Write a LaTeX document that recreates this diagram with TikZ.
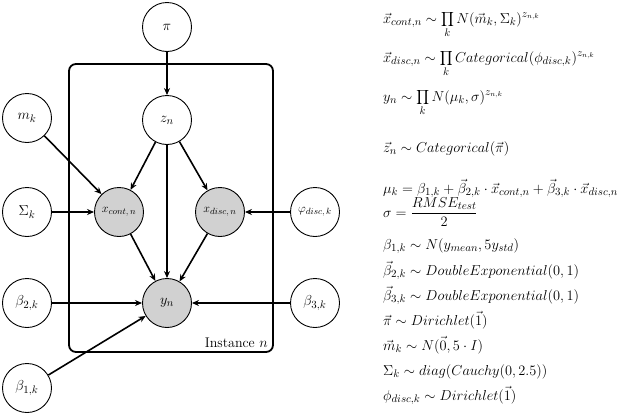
\documentclass[tikz,border=0pt]{standalone}
\usetikzlibrary{arrows.meta}
\begin{document}
\begin{tikzpicture}[x=1pt,y=-1pt,
  var/.style={circle,draw,line width=0.9pt,minimum size=49pt,inner sep=0pt,font=\fontsize{15}{17}\selectfont},
  obs/.style={var,fill=black!18},
  edge/.style={line width=1.6pt,-{Stealth[length=7pt,width=6pt]}},
  eq/.style={anchor=base west,inner sep=0pt,font=\fontsize{15}{17}\selectfont}]
\useasboundingbox (0,0) rectangle (640,418);
\draw[line width=1.8pt,rounded corners=7pt] (69,64) rectangle (273,352);
\node[anchor=south east,inner sep=2pt,font=\fontsize{14}{16}\selectfont] (inst) at (270,350) {Instance $n$};
\node[var] (pi) at (167,27) {$\pi$};
\node[var] (z) at (167,120) {$z_n$};
\node[var] (m) at (27,118) {$m_k$};
\node[var] (S) at (27,212) {$\Sigma_k$};
\node[obs,font=\fontsize{13}{15}\selectfont] (xc) at (119,212) {$x_{cont,\,n}$};
\node[obs,font=\fontsize{13}{15}\selectfont] (xd) at (220,212) {$x_{disc,\,n}$};
\node[var,font=\fontsize{13}{15}\selectfont] (ph) at (315,212) {$\varphi_{disc,\,k}$};
\node[obs] (y) at (167,303) {$y_n$};
\node[var] (b2) at (27,303) {$\beta_{2,k}$};
\node[var] (b3) at (315,303) {$\beta_{3,k}$};
\node[var] (b1) at (27,388) {$\beta_{1,k}$};
\draw[edge] (pi) -- (z);
\draw[edge] (z) -- (xc);
\draw[edge] (z) -- (xd);
\draw[edge] (z) -- (y);
\draw[edge] (m) -- (xc);
\draw[edge] (S) -- (xc);
\draw[edge] (ph) -- (xd);
\draw[edge] (xc) -- (y);
\draw[edge] (xd) -- (y);
\draw[edge] (b2) -- (y);
\draw[edge] (b3) -- (y);
\draw[edge] (b1) -- (y);
\node[eq] (e1) at (383,23) {$\displaystyle \vec{x}_{cont,n}\sim\prod_k N(\vec{m}_k,\Sigma_k)^{z_{n,k}}$};
\node[eq] (e2) at (383,62) {$\displaystyle \vec{x}_{disc,n}\sim\prod_k Categorical(\phi_{disc,k})^{z_{n,k}}$};
\node[eq] (e3) at (383,101) {$\displaystyle y_n\sim\prod_k N(\mu_k,\sigma)^{z_{n,k}}$};
\node[eq] (e4) at (383,152) {$\vec{z}_n\sim Categorical(\vec{\pi})$};
\node[eq] (f1) at (383,193) {$\mu_k=\beta_{1,k}+\vec{\beta}_{2,k}\cdot\vec{x}_{cont,n}+\vec{\beta}_{3,k}\cdot\vec{x}_{disc,n}$};
\node[eq] (f2) at (383,217) {$\sigma=\displaystyle\frac{RMSE_{test}}{2}$};
\node[eq] (f3) at (383,249) {$\beta_{1,k}\sim N(y_{mean},5y_{std})$};
\node[eq] (f4) at (383,275) {$\vec{\beta}_{2,k}\sim DoubleExponential(0,1)$};
\node[eq] (f5) at (383,300) {$\vec{\beta}_{3,k}\sim DoubleExponential(0,1)$};
\node[eq] (f6) at (383,325) {$\vec{\pi}\sim Dirichlet(\vec{1})$};
\node[eq] (f7) at (383,350) {$\vec{m}_k\sim N(\vec{0},5\cdot I)$};
\node[eq] (f8) at (383,375) {$\Sigma_k\sim diag(Cauchy(0,2.5))$};
\node[eq] (f9) at (383,400) {$\phi_{disc,k}\sim Dirichlet(\vec{1})$};
\end{tikzpicture}
\end{document}
